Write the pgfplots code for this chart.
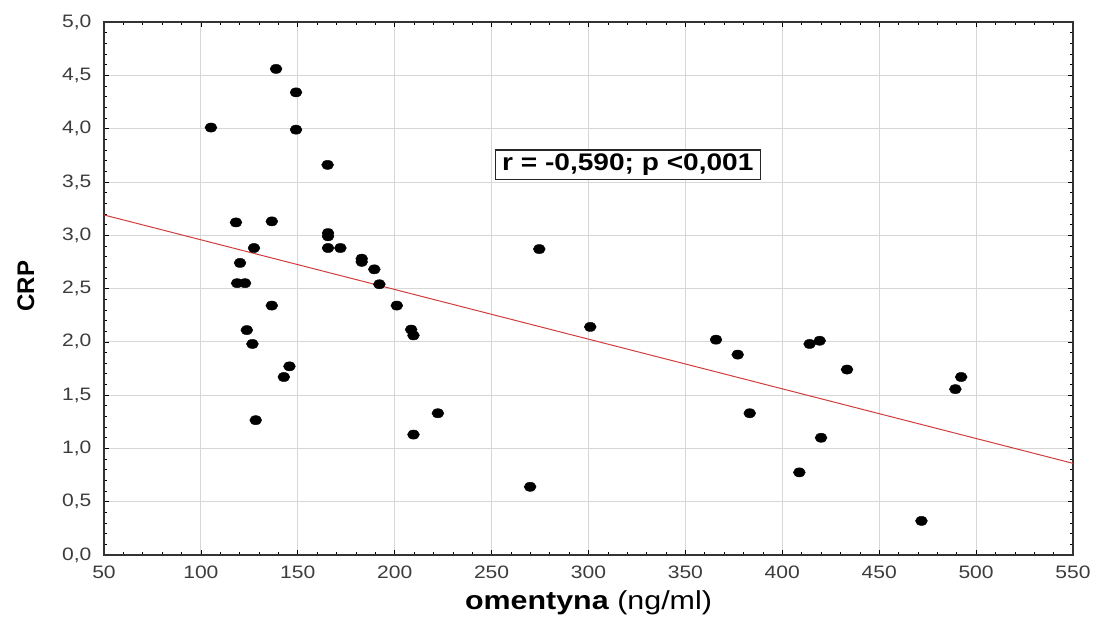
\documentclass[border=0pt]{standalone}
\usepackage{pgfplots}
\pgfplotsset{compat=1.18}
\usepackage{fontspec}
\setmainfont{Liberation Sans}[FakeStretch=1.17]
\newfontfamily\plainsans{Liberation Sans}
\definecolor{ticktxt}{RGB}{60,60,60}
\definecolor{gridc}{RGB}{215,215,215}
\definecolor{regline}{RGB}{210,60,60}
\begin{document}
\begin{tikzpicture}[x=1pt,y=1pt]
\begin{axis}[
  scale only axis,
  width=969pt, height=533pt,
  xmin=50, xmax=550, ymin=0, ymax=5,
  xtick={50,100,...,550},
  ytick={0,0.5,...,5},
  minor x tick num=4,
  minor y tick num=4,
  tick align=inside,
  major tick length=5pt,
  minor tick length=3pt,
  tick style={black, line width=0.6pt},
  axis line style={black!80, line width=1.2pt},
  grid=major,
  major grid style={gridc, line width=0.8pt},
  /pgf/number format/assume math mode=true,
  /pgf/number format/use comma,
  yticklabel style={/pgf/number format/fixed, /pgf/number format/fixed zerofill, /pgf/number format/precision=1, font=\fontsize{18}{18}\selectfont, text=ticktxt, xshift=-9pt},
  xticklabel style={font=\fontsize{18}{18}\selectfont, text=ticktxt, yshift=-7pt},
  scaled ticks=false,
  clip=false,
]
\path (rel axis cs:-0.1073,-0.1276) rectangle (rel axis cs:1.0227,1.0413);
\addplot[regline, line width=1pt, no marks] coordinates {(50,3.19) (550,0.86)};
\addplot[only marks, mark=*, mark size=4.6pt, mark options={black, fill=black, xscale=1.3}] coordinates {
(105.2,4.01) (138.8,4.56) (149.1,4.34) (149.1,3.99) (165.4,3.66)
(118.1,3.12) (136.6,3.13) (120.2,2.74) (118.7,2.55) (122.8,2.55)
(127.4,2.88) (136.6,2.34) (165.6,3.02) (165.6,2.99) (165.6,2.88)
(172.0,2.88) (183.0,2.78) (183.0,2.75) (189.5,2.68) (192.1,2.54)
(201.1,2.34) (123.7,2.11) (126.6,1.98) (145.7,1.77) (142.8,1.67)
(128.3,1.265) (208.5,2.115) (209.7,2.06) (222.3,1.33) (209.7,1.13)
(274.6,2.87) (300.9,2.14) (269.9,0.64) (365.8,2.02) (377.0,1.88)
(383.2,1.33) (414.1,1.98) (419.3,2.01) (433.4,1.74) (420.0,1.10)
(408.8,0.775) (471.8,0.32) (489.3,1.556) (492.3,1.67)
};
\node[draw=black!85, line width=1.2pt, fill=white, inner xsep=7pt, inner ysep=4pt, font=\fontsize{24}{24}\selectfont\bfseries] at (axis cs:320.3,3.66) {r = -0,590; p <0,001};
\node[font=\fontsize{26}{26}\selectfont, anchor=center] at (rel axis cs:0.5,-0.0903) {\textbf{omentyna} (ng/ml)};
\node[font=\plainsans\fontsize{24}{24}\selectfont\bfseries, rotate=90, anchor=center] at (rel axis cs:-0.0805,0.5047) {CRP};
\end{axis}
\end{tikzpicture}
\end{document}
